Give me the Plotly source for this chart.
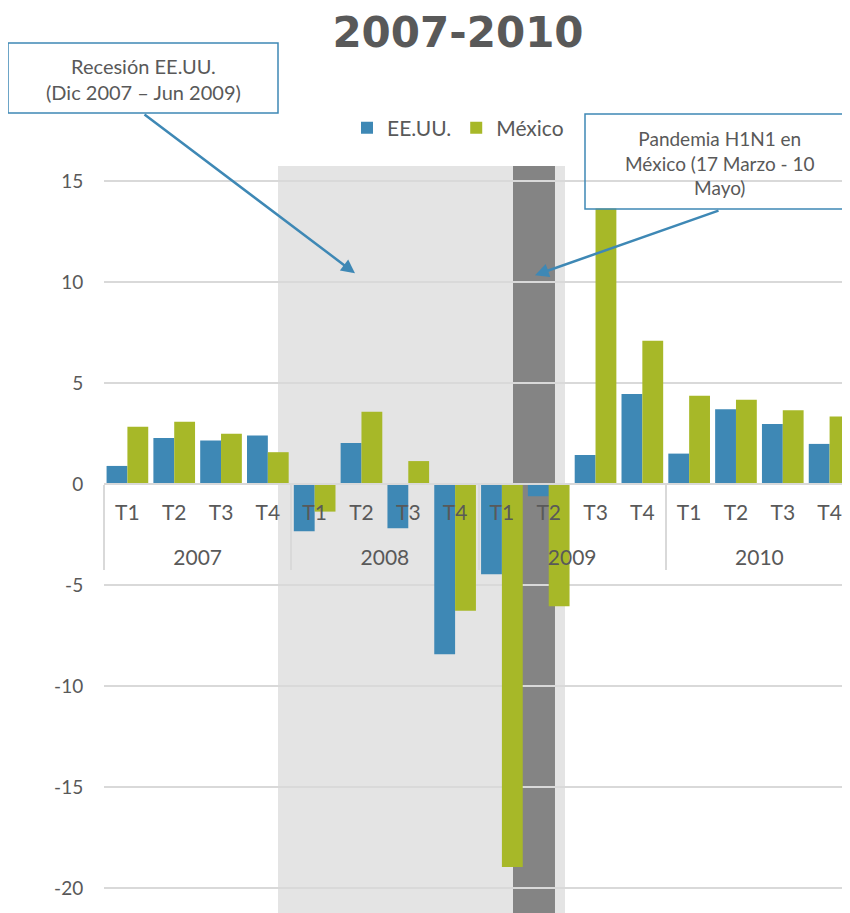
import plotly.graph_objects as go

# ---- data ----
years = ["2007"] * 4 + ["2008"] * 4 + ["2009"] * 4 + ["2010"] * 4
quarters = ["T1", "T2", "T3", "T4"] * 4
eeuu = [0.9, 2.28, 2.16, 2.41, -2.33, 2.04, -2.18, -8.42,
        -4.46, -0.6, 1.44, 4.46, 1.51, 3.71, 2.97, 1.99]
mexico = [2.84, 3.08, 2.49, 1.58, -1.36, 3.58, 1.14, -6.27,
          -18.95, -6.04, 13.64, 7.09, 4.37, 4.17, 3.66, 3.35]
y_ticks = [-20, -15, -10, -5, 0, 5, 10, 15]
y_tick_labels = ["-20", "-15", "-10", "-5", "0", "5", "10", "15"]

# ---- layout constants ----
# the html page body has an 8px margin, so figure pixels = page pixels - 8
OFF = 8
W, H = 850, 913
ML, MT = 104 - OFF, 166 - OFF
PW, PH = 749, 747
MR = W - ML - PW
MB = H - MT - PH
YMIN, YMAX = -21.22, 15.74
XR = [-0.5, 15.5]
FONT = "Lato"
GRAY = "#595959"
BLUE = "#3E88B5"
GREEN = "#A7B828"
GRID = "#D9D9D9"


def xpaper(idx):
    return (idx - XR[0]) / (XR[1] - XR[0])


def page2paper(px, py):
    fx, fy = px - OFF, py - OFF
    return (fx - ML) / PW, (MT + PH - fy) / PH


# year labels sit one line lower than the quarter labels
year_disp = ["<br>" + y for y in years]

fig = go.Figure()
fig.add_trace(go.Bar(name="EE.UU.", x=[year_disp, quarters], y=eeuu,
                     marker=dict(color=BLUE, line=dict(width=0))))
fig.add_trace(go.Bar(name="México", x=[year_disp, quarters], y=mexico,
                     marker=dict(color=GREEN, line=dict(width=0))))

# shaded periods
fig.add_shape(type="rect", xref="paper", yref="paper",
              x0=xpaper(3.217), x1=xpaper(9.348), y0=0, y1=1,
              fillcolor="#E4E4E4", line=dict(width=0), layer="below")
fig.add_shape(type="rect", xref="paper", yref="paper",
              x0=xpaper(8.237), x1=xpaper(9.134), y0=0, y1=1,
              fillcolor="#848484", line=dict(width=0), layer="below")

zero_pos = (0 - YMIN) / (YMAX - YMIN)

# annotation boxes (outline shapes + text)
b1x0, b1y0 = page2paper(8, 113)
b1x1, b1y1 = page2paper(278, 43)
fig.add_shape(type="rect", xref="paper", yref="paper",
              x0=b1x0, x1=b1x1, y0=b1y0, y1=b1y1,
              line=dict(color=BLUE, width=1.5), fillcolor="rgba(0,0,0,0)",
              layer="above")
b2x0, b2y0 = page2paper(585, 209)
b2x1, b2y1 = page2paper(856, 114)
fig.add_shape(type="rect", xref="paper", yref="paper",
              x0=b2x0, x1=b2x1, y0=b2y0, y1=b2y1,
              line=dict(color=BLUE, width=1.5), fillcolor="rgba(0,0,0,0)",
              layer="above")

t1x, t1y = page2paper(143, 79)
fig.add_annotation(xref="paper", yref="paper", x=t1x, y=t1y,
                   text="Recesión EE.UU.<br>(Dic 2007 – Jun 2009)",
                   showarrow=False, font=dict(family=FONT, size=20, color=GRAY),
                   xanchor="center", yanchor="middle")
t2x, t2y = page2paper(720, 163)
fig.add_annotation(xref="paper", yref="paper", x=t2x, y=t2y,
                   text="Pandemia H1N1 en<br>México (17 Marzo - 10<br>Mayo)",
                   showarrow=False, font=dict(family=FONT, size=19, color=GRAY),
                   xanchor="center", yanchor="middle")

# arrows
fig.add_annotation(xref="paper", yref="y", x=xpaper(4.862), y=10.43,
                   text="", showarrow=True, ax=-212, ay=-160,
                   arrowhead=2, arrowsize=1.1, arrowwidth=2.5, arrowcolor=BLUE)
fig.add_annotation(xref="paper", yref="y", x=xpaper(8.707), y=10.34,
                   text="", showarrow=True, ax=185, ay=-65,
                   arrowhead=2, arrowsize=1.1, arrowwidth=2.5, arrowcolor=BLUE)

lx, ly = page2paper(347, 128)
fig.update_layout(
    width=W, height=H,
    margin=dict(l=ML, r=MR, t=MT, b=MB, autoexpand=False),
    paper_bgcolor="white", plot_bgcolor="white",
    font=dict(family=FONT, color=GRAY),
    title=dict(text="<b>2007-2010</b>", x=(458 - OFF) / W, xref="container",
               xanchor="center", y=1 - 9.5 / H, yref="container", yanchor="top",
               font=dict(family="DejaVu Sans", size=42, color=GRAY)),
    barmode="group", bargap=0.11, bargroupgap=0,
    showlegend=True,
    legend=dict(orientation="h", x=lx, y=ly, xanchor="left", yanchor="middle",
                font=dict(family=FONT, size=21, color=GRAY),
                bgcolor="rgba(0,0,0,0)", itemwidth=30, traceorder="normal"),
    xaxis=dict(type="multicategory", range=XR, anchor="free", position=zero_pos,
               showgrid=False, showline=True, linecolor=GRID, linewidth=2,
               showdividers=True, dividercolor=GRID, dividerwidth=2,
               ticks="", ticklabelstandoff=10,
               tickfont=dict(family=FONT, size=21, color=GRAY)),
    yaxis=dict(range=[YMIN, YMAX], tickvals=y_ticks, ticktext=y_tick_labels,
               showgrid=True, gridcolor=GRID, gridwidth=2, zeroline=False,
               showline=False, ticks="outside", ticklen=16,
               tickcolor="rgba(0,0,0,0)",
               tickfont=dict(family=FONT, size=19, color=GRAY)),
)

fig.write_html("out.html")
